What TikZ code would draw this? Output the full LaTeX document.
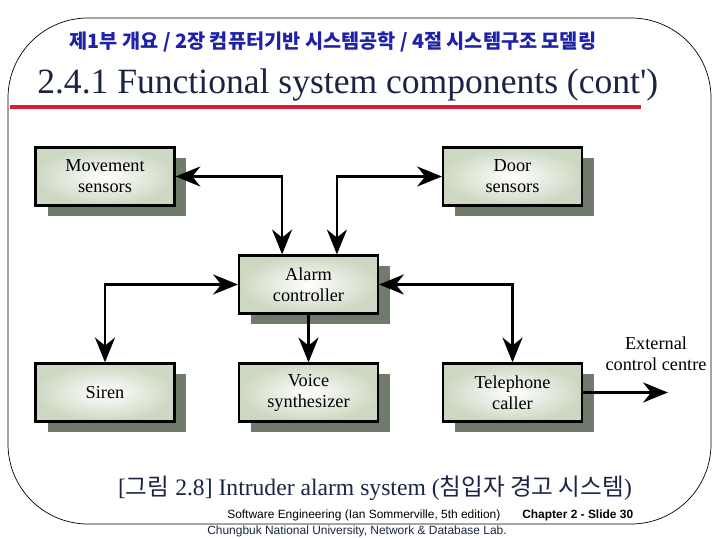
\documentclass[tikz,border=0pt]{standalone}
\usepackage{fontspec}
\setmainfont{Liberation Serif}
\setsansfont{Liberation Sans}
\newfontfamily\kor{Noto Sans CJK KR}
\usetikzlibrary{arrows.meta,shadows}

\definecolor{boxgreen}{HTML}{CDD8C2}
\definecolor{shadowgray}{HTML}{707B6B}
\definecolor{headblue}{HTML}{1E22A8}
\definecolor{titlenavy}{HTML}{1C2444}
\definecolor{rulered}{HTML}{D81C3A}

\tikzset{
	block/.style={draw, line width=1.6pt, inner color=white, outer color=boxgreen,
		minimum width=3.47cm, minimum height=1.45cm, align=center,
		font=\fontsize{13}{15}\selectfont,
		drop shadow={shadow xshift=0.3cm, shadow yshift=-0.27cm, fill=shadowgray, opacity=1}},
	link/.style={line width=1.8pt}
}

\begin{document}
\begin{tikzpicture}[x=0.025cm, y=-0.025cm, >={Stealth[length=0.62cm,width=0.5cm,inset=0.2cm]}]
			\useasboundingbox (0,0) rectangle (717,538);

			% Slide frame, headings and the red rule.
			\draw[line width=0.5pt, rounded corners=2cm] (8,18) rectangle (711,524);
			\node[text=headblue, font=\kor\bfseries\fontsize{14}{16}\selectfont] (part) at (333,42)
				{제1부 개요 / 2장 컴퓨터기반 시스템공학 / 4절 시스템구조 모델링};
			\node[anchor=west, text=titlenavy, font=\fontsize{25.3}{28}\selectfont, inner sep=0pt] (title) at (37,85)
				{2.4.1 Functional system components (cont\textquotesingle)};
			\draw[rulered, line width=2.8pt] (10,107) -- (641,107);

			% The six system components.
			\node[block] (move) at (105,176.5) {Movement\\sensors};
			\node[block] (door) at (512.5,176.5) {Door\\sensors};
			\node[block] (ctrl) at (308.5,284.5) {Alarm\\controller};
			\node[block] (siren) at (105,392.5) {Siren};
			\node[block] (voice) at (308.5,392.5) {Voice\\synthesizer};
			\node[block] (phone) at (512.5,392.5) {Telephone\\caller};
			\node[align=center, font=\fontsize{13}{15}\selectfont] (ext) at (656,354) {External\\control centre};

			% Links between the controller and the other components.
			\coordinate (ctrlin1) at ([xshift=-0.66cm]ctrl.north);
			\coordinate (ctrlin2) at ([xshift=0.71cm]ctrl.north);
			\coordinate (extend) at ([xshift=2.12cm]phone.east);
			\draw[link, <->] (move.east) -| (ctrlin1);
			\draw[link, <->] (door.west) -| (ctrlin2);
			\draw[link, <->] (ctrl.west) -| (siren.north);
			\draw[link, <->] (ctrl.east) -| (phone.north);
			\draw[link, ->] (ctrl.south) -- (voice.north);
			\draw[link, ->] (phone.east) -- (extend);

			% Caption and footer.
			\node[text=titlenavy, font=\fontsize{16.8}{18}\selectfont] (caption) at (375,488)
				{[{\kor 그림} 2.8] Intruder alarm system ({\kor 침입자 경고 시스템})};
			\node[anchor=west, font=\sffamily\fontsize{8.5}{10}\selectfont, inner sep=0pt] (book) at (227,515)
				{Software Engineering (Ian Sommerville, 5th edition)};
			\node[anchor=west, font=\sffamily\bfseries\fontsize{8.5}{10}\selectfont, inner sep=0pt] (slide) at (522,515)
				{Chapter 2 - Slide 30};
			\node[font=\sffamily\fontsize{8.5}{10}\selectfont, text=titlenavy, inner sep=0pt] (lab) at (357,531)
				{Chungbuk National University, Network \& Database Lab.};
		\end{tikzpicture}
\end{document}
